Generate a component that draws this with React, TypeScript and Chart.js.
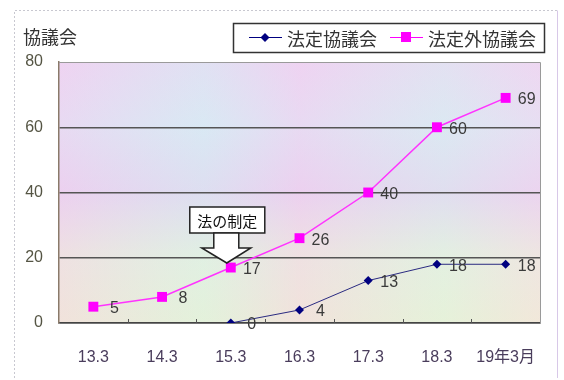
import React, { useEffect, useRef } from "react";
import { Chart, registerables } from "chart.js";

Chart.register(...registerables);

const categories = ["13.3", "14.3", "15.3", "16.3", "17.3", "18.3", "19年3月"];
const legalCouncils = [null, null, 0, 4, 13, 18, 18];
const nonLegalCouncils = [5, 8, 17, 26, 40, 60, 69];
const seriesNames = ["法定協議会", "法定外協議会"];
const yTicks = [0, 20, 40, 60, 80];
const axisTitle = "協議会";
const annotationText = "法の制定";
const annotationIndex = 2;

const NUM_FONT = '"Liberation Sans", "Noto Sans CJK JP", sans-serif';
const JP_FONT = '"Noto Sans CJK JP", "Liberation Sans", sans-serif';

const decorPlugin = {
  id: "decor",
  beforeDraw(chart: any) {
    const { ctx, chartArea: a, width, height } = chart;
    ctx.save();
    ctx.fillStyle = "#ffffff";
    ctx.fillRect(0, 0, width, height);
    // outer frame
    ctx.strokeStyle = "#c8c8d0";
    ctx.lineWidth = 1;
    ctx.setLineDash([2, 2]);
    ctx.beginPath();
    ctx.moveTo(14.5, 378);
    ctx.lineTo(14.5, 10.5);
    ctx.lineTo(557.5, 10.5);
    ctx.stroke();
    ctx.setLineDash([]);
    ctx.strokeStyle = "#d8c8e8";
    ctx.beginPath();
    ctx.moveTo(557.5, 10.5);
    ctx.lineTo(557.5, 378);
    ctx.stroke();
    // plot background
    const g = ctx.createLinearGradient(0, a.top, 0, a.bottom);
    g.addColorStop(0, "#ecdcf2");
    g.addColorStop(0.25, "#e2e6f3");
    g.addColorStop(0.5, "#e8d8ef");
    g.addColorStop(0.75, "#ecf0dc");
    g.addColorStop(1, "#f0f2d2");
    ctx.fillStyle = g;
    ctx.fillRect(a.left, a.top, a.right - a.left, a.bottom - a.top);
    const h = ctx.createLinearGradient(a.left, 0, a.right, 0);
    h.addColorStop(0, "rgba(245,190,240,0.3)");
    h.addColorStop(0.3, "rgba(190,240,245,0.25)");
    h.addColorStop(0.5, "rgba(245,190,240,0.3)");
    h.addColorStop(0.8, "rgba(200,240,240,0.25)");
    h.addColorStop(1, "rgba(245,200,240,0.25)");
    ctx.fillStyle = h;
    ctx.fillRect(a.left, a.top, a.right - a.left, a.bottom - a.top);
    ctx.restore();
  },
  afterDraw(chart: any) {
    const { ctx, chartArea: a } = chart;
    const xs = chart.scales.x;
    ctx.save();
    // plot border right/top
    ctx.strokeStyle = "#9a9a9a";
    ctx.lineWidth = 1;
    ctx.beginPath();
    ctx.moveTo(a.left, a.top + 0.5);
    ctx.lineTo(a.right + 0.5, a.top + 0.5);
    ctx.lineTo(a.right + 0.5, a.bottom);
    ctx.stroke();
    // small tick marks between categories
    const step = (a.right - a.left) / categories.length;
    ctx.strokeStyle = "#555";
    for (let k = 1; k < categories.length; k++) {
      const x = Math.round(a.left + k * step) + 0.5;
      ctx.beginPath();
      ctx.moveTo(x, a.bottom);
      ctx.lineTo(x, a.bottom - 4);
      ctx.stroke();
    }

    // data labels
    ctx.font = "16px " + NUM_FONT;
    ctx.fillStyle = "#3a3a3a";
    ctx.textAlign = "center";
    ctx.textBaseline = "middle";
    chart.data.datasets.forEach((ds: any, di: number) => {
      const meta = chart.getDatasetMeta(di);
      meta.data.forEach((pt: any, i: number) => {
        const v = ds.data[i];
        if (v === null || v === undefined) return;
        ctx.fillText(String(v), pt.x + 21, pt.y + 2);
      });
    });

    // annotation box + arrow
    const ax = xs.getPixelForValue(annotationIndex);
    const bx = ax - 41, by = 207, bw = 75, bh = 26;
    ctx.fillStyle = "#ffffff";
    ctx.strokeStyle = "#222";
    ctx.lineWidth = 1.5;
    ctx.fillRect(bx, by, bw, bh);
    ctx.strokeRect(bx, by, bw, bh);
    ctx.fillStyle = "#111";
    ctx.font = "15px " + JP_FONT;
    ctx.textAlign = "center";
    ctx.fillText(annotationText, bx + bw / 2, by + bh / 2 + 1);
    const cx = ax - 4;
    ctx.beginPath();
    ctx.moveTo(cx - 13, by + bh);
    ctx.lineTo(cx - 13, 248);
    ctx.lineTo(cx - 25, 248);
    ctx.lineTo(cx, 263);
    ctx.lineTo(cx + 24, 248);
    ctx.lineTo(cx + 12, 248);
    ctx.lineTo(cx + 12, by + bh);
    ctx.closePath();
    ctx.fillStyle = "#ffffff";
    ctx.fill();
    ctx.lineWidth = 1.5;
    ctx.strokeStyle = "#222";
    ctx.stroke();

    // axis title
    ctx.font = "18px " + JP_FONT;
    ctx.fillStyle = "#333";
    ctx.textAlign = "left";
    ctx.fillText(axisTitle, 23, 37);

    // legend
    ctx.fillStyle = "#ffffff";
    ctx.fillRect(233, 23, 311, 29);
    ctx.strokeStyle = "#333";
    ctx.lineWidth = 1.5;
    ctx.strokeRect(233.5, 23.5, 311, 29);
    const items = [
      { x: 249, color: "#000080", style: "rectRot", r: 4.5, label: seriesNames[0] },
      { x: 390, color: "#ff00ff", style: "rect", r: 7, label: seriesNames[1] },
    ];
    items.forEach((it) => {
      ctx.strokeStyle = it.color;
      ctx.lineWidth = 1;
      ctx.beginPath();
      ctx.moveTo(it.x, 37.5);
      ctx.lineTo(it.x + 33, 37.5);
      ctx.stroke();
      ctx.fillStyle = it.color;
      if (it.style === "rect") {
        ctx.fillRect(it.x + 11, 32, 10, 10);
      } else {
        ctx.beginPath();
        ctx.moveTo(it.x + 16, 33);
        ctx.lineTo(it.x + 20.5, 37.5);
        ctx.lineTo(it.x + 16, 42);
        ctx.lineTo(it.x + 11.5, 37.5);
        ctx.closePath();
        ctx.fill();
      }
      ctx.fillStyle = "#333";
      ctx.font = "18px " + JP_FONT;
      ctx.textAlign = "left";
      ctx.fillText(it.label, it.x + 38, 39);
    });
    ctx.restore();
  },
};

export default function App() {
  const ref = useRef<HTMLCanvasElement>(null);
  useEffect(() => {
    if (!ref.current) return;
    const chart = new Chart(ref.current, {
      type: "line",
      data: {
        labels: categories,
        datasets: [
          {
            label: seriesNames[0],
            data: legalCouncils as any,
            borderColor: "#2a2a80",
            backgroundColor: "#000080",
            borderWidth: 1,
            pointStyle: "rectRot",
            pointRadius: 4.5,
            pointBorderWidth: 0,
            tension: 0,
          },
          {
            label: seriesNames[1],
            data: nonLegalCouncils,
            borderColor: "#ff33ff",
            backgroundColor: "#ff00ff",
            borderWidth: 1.5,
            pointStyle: "rect",
            pointRadius: 7,
            pointBorderWidth: 0,
            tension: 0,
          },
        ],
      },
      options: {
        responsive: false,
        animation: false,
        layout: { padding: { top: 62, right: 24, left: 0, bottom: 0 } },
        plugins: { legend: { display: false }, tooltip: { enabled: false } },
        scales: {
          x: {
            type: "category",
            offset: true,
            grid: { display: false, drawTicks: false },
            border: { display: true, color: "#444", width: 1.5 },
            ticks: {
              padding: 25,
              color: "#4a3d5c",
              font: { size: 16, family: NUM_FONT },
              maxRotation: 0,
              autoSkip: false,
            },
            afterFit: (s: any) => {
              s.height = 57;
            },
          },
          y: {
            min: 0,
            max: 80,
            afterBuildTicks: (s: any) => {
              s.ticks = yTicks.map((v) => ({ value: v }));
            },
            grid: {
              drawTicks: false,
              color: (c: any) =>
                c.tick && c.tick.value === 80 ? "rgba(0,0,0,0)" : "#555",
              lineWidth: 1.5,
            },
            border: { display: true, color: "#8a7a6a", width: 1.5 },
            ticks: {
              padding: 16,
              color: "#555544",
              font: { size: 16, family: NUM_FONT },
            },
            afterFit: (s: any) => {
              s.width = 59;
            },
          },
        },
      },
      plugins: [decorPlugin],
    });
    return () => chart.destroy();
  }, []);
  return (
    <div style={{ position: "fixed", left: 0, top: 0, width: 564, height: 380 }}>
      <canvas ref={ref} width={564} height={380} style={{ display: "block" }} />
    </div>
  );
}
